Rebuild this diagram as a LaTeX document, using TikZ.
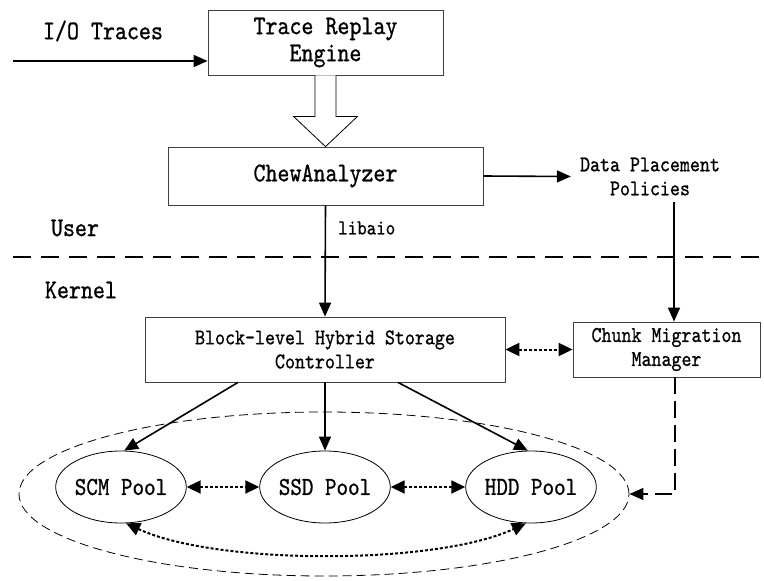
\documentclass[tikz,border=0pt]{standalone}
\usepackage{fontspec}
\usetikzlibrary{arrows.meta,shapes.geometric,calc}
\newfontfamily\lmono{lmmono10-regular}[Extension=.otf, FakeStretch=0.846, FakeBold=0.8]
\newcommand\fntA{\lmono\fontsize{27}{27}\selectfont}
\newcommand\fntB{\lmono\fontsize{22.5}{24}\selectfont}
\newcommand\fntC{\lmono\fontsize{21.4}{22}\selectfont}
\newcommand\fntD{\lmono\fontsize{26}{26}\selectfont}
\begin{document}
\begin{tikzpicture}[x=1pt,y=-1pt,
  box/.style={draw=black!75, line width=0.8pt, inner sep=0pt, align=center},
  arr/.style={line width=1.6pt, -{Triangle[length=14pt,width=12pt]}},
  darr/.style={line width=2pt, dash pattern=on 3pt off 2pt, {Triangle[length=14pt,width=13pt]}-{Triangle[length=14pt,width=13pt]}},
  pool/.style={ellipse, draw, line width=0.8pt, minimum width=114pt, minimum height=72pt, inner sep=0pt},
  lbl/.style={inner sep=0pt, align=center}]
\useasboundingbox (0,0) rectangle (764,581);

% top part
\node[lbl, font=\fntA] (io) at (103,31) {I/O Traces};
\node[box, minimum width=235pt, minimum height=65pt, font=\fntA] (trace) at (325.5,42.5) {Trace Replay\\Engine};
\coordinate (iostart) at (13,61);
\draw[arr] (iostart) -- (iostart -| trace.west);

\node[box, minimum width=315pt, minimum height=58pt, font=\fntA] (chew) at (325.5,176) {ChewAnalyzer};
\node[lbl, font=\fntB, inner xsep=9pt] (dp) at (650,176.5) {Data Placement\\Policies};
\draw[arr] (chew.east) -- (dp.west);

% hollow arrow
\draw[line width=0.8pt, fill=white] ($(trace.south)+(-10.5,0)$) -- ++(0,41) -- ++(-21.5,0)
  -- (chew.north) -- ($(trace.south)+(32,41)$) -- ++(-21.5,0) -- ($(trace.south)+(10.5,0)$);

% user / kernel
\node[lbl, font=\fntC, anchor=west] (lib) at (338,228) {libaio};
\node[lbl, font=\fntA] (user) at (75,228) {User};
\node[lbl, font=\fntA] (kern) at (81,290) {Kernel};
\coordinate (sepL) at (13,257);
\coordinate (sepR) at (764,257);
\draw[line width=2pt, dash pattern=on 18pt off 10pt] (sepL) -- (sepR);

% kernel boxes
\node[box, minimum width=360pt, minimum height=65pt, font=\fntB] (blk) at (325,349.5) {Block-level Hybrid Storage\\Controller};
\node[box, minimum width=187pt, minimum height=55pt, font=\fntB] (chunk) at (666.5,349.5) {Chunk Migration\\Manager};

\draw[arr] (chew.south) -- (blk.north);
\coordinate (dptail) at (674,202);
\draw[arr] (dptail) -- (dptail |- chunk.north);
\draw[darr] (blk.east) -- (chunk.west);

% pools
\node[ellipse, draw, line width=0.8pt, dash pattern=on 9pt off 5pt, minimum width=610pt, minimum height=164pt, inner sep=0pt] (zone) at (324,494) {};
\node[pool, font=\fntD] (scm) at (121,487) {SCM Pool};
\node[pool, font=\fntD] (ssd) at (325,487) {SSD Pool};
\node[pool, font=\fntD] (hdd) at (531,487) {HDD Pool};

\draw[arr] ([xshift=-87pt]blk.south) -- (scm.85);
\draw[arr] (blk.south) -- (ssd.north);
\draw[arr] ([xshift=73pt]blk.south) -- (hdd.95);
\draw[darr] (scm.east) -- (ssd.west);
\draw[darr] (ssd.east) -- (hdd.west);
\draw[darr] (scm.-82) .. controls +(90,42) and +(-90,42) .. (hdd.-98);
\draw[line width=1.6pt, dash pattern=on 17pt off 7pt, -{Triangle[length=14pt,width=12pt]}] ([xshift=8.5pt]chunk.south) |- (zone.east);
\end{tikzpicture}
\end{document}
